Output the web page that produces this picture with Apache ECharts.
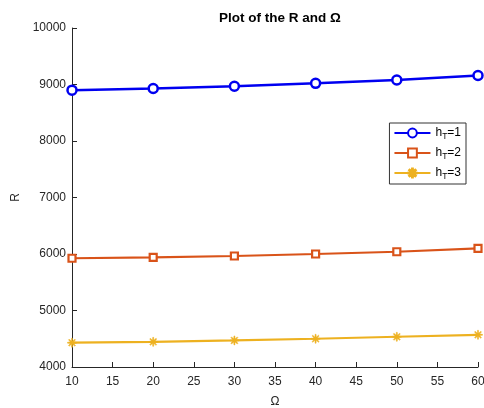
<!DOCTYPE html>
<html><head><meta charset="utf-8">
<script src="https://cdn.jsdelivr.net/npm/echarts@6/dist/echarts.min.js"></script>
<style>html,body{margin:0;padding:0;background:#fff}#c{width:484px;height:408px}</style>
</head><body><div id="c"></div>
<script>
const omega = [10, 20, 30, 40, 50, 60];
const r_h1 = [8900, 8930, 8970, 9020, 9080, 9160];
const r_h2 = [5925, 5940, 5965, 6000, 6040, 6100];
const r_h3 = [4430, 4445, 4470, 4500, 4535, 4570];
const names = ['h1', 'h2', 'h3'];
const labels = {h1: '1', h2: '2', h3: '3'};

const star = 'path://M-1,-10 L1,-10 L1.5,-3.6 L6.4,-7.8 L7.8,-6.4 L3.6,-1.5 L10,-1 L10,1 L3.6,1.5 L7.8,6.4 L6.4,7.8 L1.5,3.6 L1,10 L-1,10 L-1.5,3.6 L-6.4,7.8 L-7.8,6.4 L-3.6,1.5 L-10,1 L-10,-1 L-3.6,-1.5 L-7.8,-6.4 L-6.4,-7.8 L-1.5,-3.6 Z';
const font = '"Liberation Sans", Arial, sans-serif';

function pairs(ys) { return omega.map((x, i) => [x, ys[i]]); }

const chart = echarts.init(document.getElementById('c'), null, {renderer: 'canvas'});
chart.setOption({
  animation: false,
  backgroundColor: '#fff',
  textStyle: {fontFamily: font},
  title: {
    text: 'Plot of the R and Ω', left: 275, top: 6, textAlign: 'center',
    textStyle: {fontSize: 13.5, fontWeight: 'bold', color: '#000', fontFamily: font}
  },
  grid: {left: 72, right: 6, top: 28, bottom: 41, containLabel: false, outerBoundsMode: 'none'},
  legend: {
    orient: 'vertical', right: 18, top: 123,
    backgroundColor: '#fff', borderColor: '#333', borderWidth: 1, borderRadius: 0,
    padding: [4, 5, 3, 4], itemGap: 6, itemWidth: 36, itemHeight: 11,
    data: names,
    formatter: n => '{a|h}{s|T}{a|=' + labels[n] + '}',
    textStyle: {
      color: '#000', fontFamily: font,
      rich: {
        a: {fontSize: 12, color: '#000', fontFamily: font},
        s: {fontSize: 8.5, color: '#000', fontFamily: font, padding: [7, 0, 0, 0]}
      }
    }
  },
  xAxis: {
    type: 'value', min: 10, max: 60, interval: 5,
    name: 'Ω', nameLocation: 'middle', nameGap: 29,
    nameTextStyle: {fontSize: 12, color: '#262626', fontFamily: font},
    axisLine: {lineStyle: {color: '#262626', width: 1}},
    axisTick: {inside: true, length: 5, lineStyle: {color: '#262626'}},
    axisLabel: {fontSize: 12, color: '#262626', margin: 9, fontFamily: font},
    splitLine: {show: false}
  },
  yAxis: {
    type: 'value', min: 4000, max: 10000, interval: 1000,
    name: 'R', nameLocation: 'middle', nameGap: 48,
    nameTextStyle: {fontSize: 12, color: '#262626', fontFamily: font},
    axisLine: {show: true, lineStyle: {color: '#262626', width: 1}},
    axisTick: {show: true, inside: true, length: 5, lineStyle: {color: '#262626'}},
    axisLabel: {fontSize: 12, color: '#262626', margin: 6, fontFamily: font, formatter: v => String(v)},
    splitLine: {show: false}
  },
  series: [
    {name: 'h1', type: 'line', data: pairs(r_h1), symbol: 'circle', symbolSize: 9,
     lineStyle: {color: '#0000F0', width: 2.5}, color: '#0000F0',
     itemStyle: {color: '#fff', borderColor: '#0000F0', borderWidth: 2.5}},
    {name: 'h2', type: 'line', data: pairs(r_h2), symbol: 'rect', symbolSize: 7,
     lineStyle: {color: '#D95319', width: 2.2}, color: '#D95319',
     itemStyle: {color: '#fff', borderColor: '#D95319', borderWidth: 2.2}},
    {name: 'h3', type: 'line', data: pairs(r_h3), symbol: star, symbolSize: 9,
     lineStyle: {color: '#EDB120', width: 2.2}, color: '#EDB120',
     itemStyle: {color: '#EDB120', borderColor: '#EDB120', borderWidth: 0.5}}
  ]
});
</script></body></html>
